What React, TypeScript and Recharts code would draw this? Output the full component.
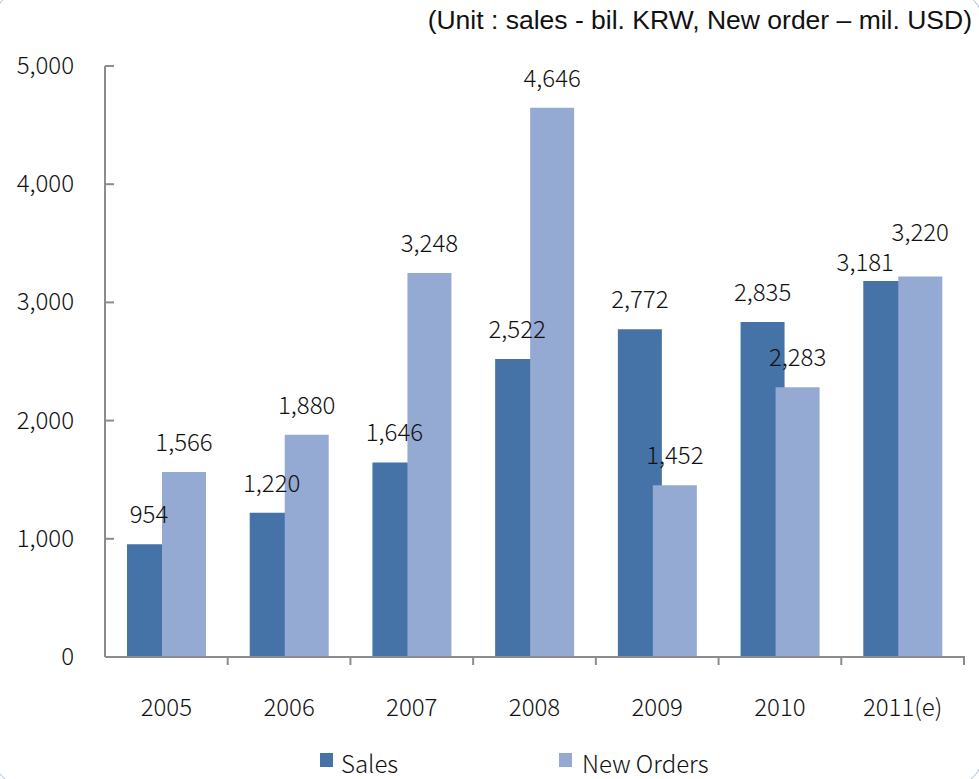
import React from "react";
import { BarChart, Bar, XAxis, YAxis, LabelList } from "recharts";

const categories = ["2005", "2006", "2007", "2008", "2009", "2010", "2011(e)"];
const sales = [954, 1220, 1646, 2522, 2772, 2835, 3181];
const newOrders = [1566, 1880, 3248, 4646, 1452, 2283, 3220];
const yTicks = [0, 1000, 2000, 3000, 4000, 5000];
const unitNote = "(Unit : sales - bil. KRW, New order \u2013 mil. USD)";

const data = categories.map((c, i) => ({ year: c, sales: sales[i], orders: newOrders[i] }));

const SALES_COLOR = "#4572A7";
const ORDERS_COLOR = "#95AAD2";
const AXIS_COLOR = "#8C8C8C";
const FONT = "'Noto Sans CJK KR', 'Noto Sans', sans-serif";
const FS = 24;
const FW = 300;

const fmt = (v: number) => v.toLocaleString("en-US");

const YTick = (props: any) => {
  const { x, y, payload } = props;
  return (
    <g>
      <line x1={x + 31} x2={x + 40} y1={y} y2={y} stroke={AXIS_COLOR} strokeWidth={2} />
      <text x={x} y={y} dy={8} textAnchor="end" fontSize={FS} fontWeight={FW} fontFamily={FONT} fill="#111">
        {fmt(payload.value)}
      </text>
    </g>
  );
};

const XTick = (props: any) => {
  const { x, y, payload } = props;
  const half = payload.offset || 0;
  return (
    <g>
      <line x1={x + half} x2={x + half} y1={y} y2={y - 9} stroke={AXIS_COLOR} strokeWidth={2} />
      <text x={x} y={y} dy={51} textAnchor="middle" fontSize={FS} fontWeight={FW} fontFamily={FONT} fill="#111">
        {payload.value}
      </text>
    </g>
  );
};

const makeLabel = (series: "sales" | "orders") => (props: any) => {
  const { x, y, width, value, index } = props;
  let dx = 0;
  let dy = 0;
  if (index === categories.length - 1) {
    if (series === "sales") {
      dx = -20;
      dy = 11;
    } else {
      dy = -14;
    }
  }
  return (
    <text
      x={x + width / 2 + dx}
      y={y - 21 + dy}
      textAnchor="middle"
      fontSize={FS}
      fontWeight={FW}
      fontFamily={FONT}
      fill="#111"
    >
      {fmt(value)}
    </text>
  );
};

const LegendContent = () => (
  <div style={{ position: "relative", width: 979, height: 30, fontFamily: FONT, fontSize: FS, fontWeight: FW, color: "#111" }}>
    <div style={{ position: "absolute", left: 320, top: -1, width: 13, height: 14, background: SALES_COLOR }} />
    <div style={{ position: "absolute", left: 341, top: -6, lineHeight: "30px" }}>Sales</div>
    <div style={{ position: "absolute", left: 559, top: -1, width: 13, height: 14, background: ORDERS_COLOR }} />
    <div style={{ position: "absolute", left: 582, top: -6, lineHeight: "30px" }}>New Orders</div>
  </div>
);

export default function App() {
  return (
    <div style={{ position: "absolute", left: 0, top: 0, width: 979, height: 779, background: "#fff", overflow: "hidden" }}>
      <div
        style={{
          position: "absolute",
          left: -8,
          top: -10,
          width: 992,
          height: 797,
          border: "1.5px solid #A8BCD8",
          borderRadius: 34,
          boxSizing: "border-box",
        }}
      />
      <div
        style={{
          position: "absolute",
          right: 7,
          top: 5,
          fontFamily: "'Liberation Sans', Arial, sans-serif",
          fontSize: 26.5,
          color: "#111",
          whiteSpace: "nowrap",
        }}
      >
        {unitNote}
      </div>
      <div style={{ position: "absolute", left: 0, top: 0 }}>
        <BarChart
          width={979}
          height={779}
          data={data}
          margin={{ top: 66, right: 15, left: 0, bottom: 36 }}
          barSize={44}
          barGap={-9}
        >
          <XAxis
            dataKey="year"
            height={86}
            axisLine={{ stroke: AXIS_COLOR, strokeWidth: 2 }}
            tickLine={false}
            tick={<XTick />}
            interval={0}
          />
          <YAxis
            width={105}
            domain={[0, 5000]}
            ticks={yTicks}
            axisLine={{ stroke: AXIS_COLOR, strokeWidth: 2 }}
            tickLine={false}
            tickSize={0}
            tickMargin={31}
            tick={<YTick />}
            interval={0}
          />
          <Bar dataKey="sales" name="Sales" fill={SALES_COLOR} isAnimationActive={false}>
            <LabelList dataKey="sales" content={makeLabel("sales")} />
          </Bar>
          <Bar dataKey="orders" name="New Orders" fill={ORDERS_COLOR} isAnimationActive={false}>
            <LabelList dataKey="orders" content={makeLabel("orders")} />
          </Bar>
        </BarChart>
      </div>
      <div style={{ position: "absolute", left: 0, top: 754 }}>
        <LegendContent />
      </div>
    </div>
  );
}
